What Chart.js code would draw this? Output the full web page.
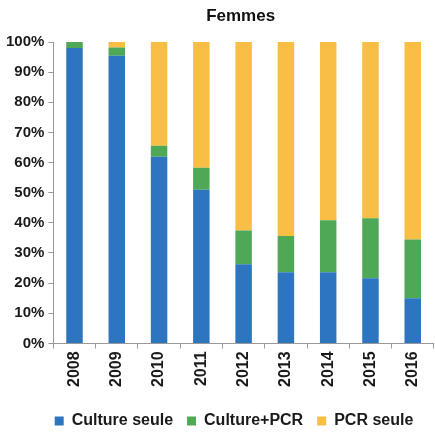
<!DOCTYPE html>
<html>
<head>
<meta charset="utf-8">
<script src="https://cdn.jsdelivr.net/npm/chart.js@4/dist/chart.umd.min.js"></script>
<style>
    html, body { margin: 0; padding: 0; background: #fff; }
    #wrap { width: 435px; height: 436px; }
</style>
</head>
<body>
<div id="wrap"><canvas id="femmesChart"></canvas></div>
<script>
// Years on the x-axis
const years = ['2008', '2009', '2010', '2011', '2012', '2013', '2014', '2015', '2016'];

// Shares in %
const cultureSeule = [98.0, 95.4, 61.9, 51.0, 26.3, 23.6, 23.6, 21.6, 15.0];
const culturePcr = [2.0, 2.8, 3.7, 7.3, 11.2, 12.0, 17.3, 19.9, 19.5];
const pcrSeule = [0.0, 1.8, 34.4, 41.7, 62.5, 64.4, 59.1, 58.5, 65.5];

const seriesLabels = ['Culture seule', 'Culture+PCR', 'PCR seule'];
const seriesColors = ['#2E75BF', '#4EA855', '#F8BE45'];

const FONT = '"Liberation Sans", Arial, sans-serif';
Chart.defaults.font.family = FONT;
Chart.defaults.font.weight = 'bold';
Chart.defaults.color = '#1a1a1a';

// Title centred over the plot area rather than the whole canvas,
// and the legend nudged to sit under the plot
const plotTitle = {
    id: 'plotTitle',
    afterLayout(chart) {
        chart.legend.left += 16;
        chart.legend.right += 16;
        chart.legend.top += 5;
        chart.legend.bottom += 5;
    },
    afterDraw(chart) {
        const c = chart.ctx;
        const area = chart.chartArea;
        c.save();
        c.font = 'bold 17px ' + FONT;
        c.fillStyle = '#111';
        c.textAlign = 'center';
        c.textBaseline = 'middle';
        c.fillText('Femmes', (area.left + area.right) / 2 - 3, 16);
        c.restore();
    },
};

function createFemmesChart() {
    const ctx = document.getElementById('femmesChart').getContext('2d');
    const data = [cultureSeule, culturePcr, pcrSeule];
    new Chart(ctx, {
        type: 'bar',
        data: {
            labels: years,
            datasets: seriesLabels.map(function (label, i) {
                return {
                    label: label,
                    data: data[i],
                    backgroundColor: seriesColors[i],
                    borderWidth: 0,
                    barPercentage: 0.39,
                    categoryPercentage: 1,
                };
            }),
        },
        options: {
            responsive: true,
            maintainAspectRatio: false,
            animation: false,
            layout: { padding: { left: 2, right: 1, top: 42, bottom: 2 } },
            plugins: {
                legend: {
                    position: 'bottom',
                    labels: {
                        boxWidth: 9,
                        boxHeight: 9,
                        font: { size: 16, weight: 'bold' },
                        padding: 14,
                    },
                },
                tooltip: { enabled: false },
            },
            scales: {
                x: {
                    stacked: true,
                    afterFit: function (scale) {
                        scale.height += 4;
                    },
                    grid: {
                        drawOnChartArea: false,
                        offset: true,
                        tickLength: 5,
                        color: '#999',
                    },
                    border: { color: '#999' },
                    ticks: {
                        minRotation: 90,
                        maxRotation: 90,
                        font: { size: 16, weight: 'bold' },
                        padding: 3,
                    },
                },
                y: {
                    stacked: true,
                    min: 0,
                    max: 100,
                    grid: {
                        drawOnChartArea: false,
                        tickLength: 5,
                        color: '#999',
                    },
                    border: { color: '#999' },
                    ticks: {
                        stepSize: 10,
                        font: { size: 15, weight: 'bold' },
                        padding: 4,
                        callback: function (value) {
                            return value + '%';
                        },
                    },
                },
            },
        },
        plugins: [plotTitle],
    });
}

document.addEventListener('DOMContentLoaded', function () {
    createFemmesChart();
});
</script>
</body>
</html>
